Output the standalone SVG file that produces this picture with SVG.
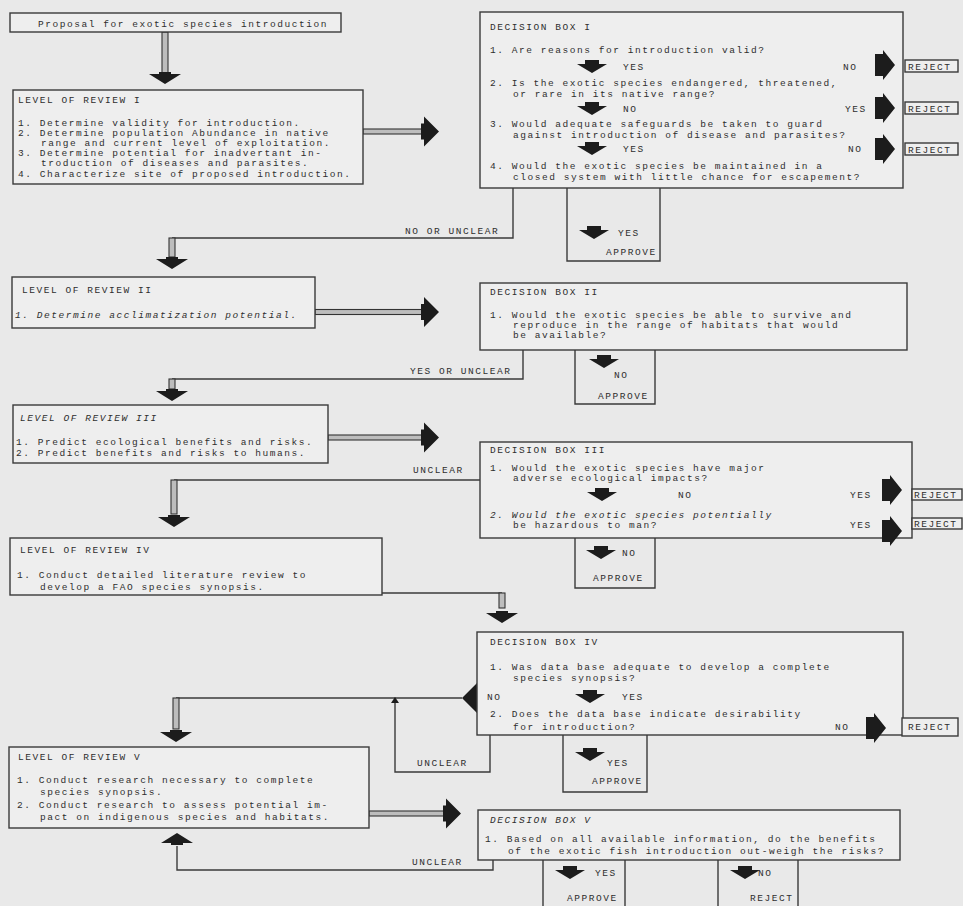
<svg xmlns="http://www.w3.org/2000/svg" width="963" height="906" viewBox="0 0 963 906">
<style>
.bg{fill:#e9e9e9}
.box{fill:#eeeeee;stroke:#3a3a3a;stroke-width:1.4}
.ln{fill:none;stroke:#3a3a3a;stroke-width:1.4}
.sh{fill:#bdbdbd;stroke:#333;stroke-width:1.1}
.ah{fill:#1c1c1c}
.t{font-family:"Liberation Mono","DejaVu Sans Mono",monospace;font-size:9.5px;letter-spacing:1.55px;fill:#2f2f2f}
.i{font-style:italic}
</style>
<defs>
<path id="dn" d="M-7,-7 h14 v4 h8 L0,6 L-15,-3 h8 Z"/>
<path id="rt" d="M-10,-11 h8 v-4 L10,0 L-2,15 v-4 h-8 Z"/>
<path id="bdn" d="M-6,-6 h12 v2 h10 L0,6 L-16,-4 h10 Z"/>
<path id="brt" d="M-9,-8 h3 v-7 L9,0 L-6,15 v-7 h-3 Z"/>
</defs>
<rect class="bg" x="0" y="0" width="963" height="906"/>

<g id="connectors">
  <rect class="sh" x="162" y="32" width="6" height="42"/>
  <use href="#bdn" class="ah" transform="translate(165,78)"/>
  <rect class="sh" x="363" y="129" width="62" height="5"/>
  <use href="#brt" class="ah" transform="translate(430,131.5)"/>
  <polyline class="ln" points="513,188 513,238 172,238"/>
  <rect class="sh" x="169" y="238" width="6" height="19"/>
  <use href="#bdn" class="ah" transform="translate(172,263)"/>
  <rect class="sh" x="315" y="309.5" width="110" height="5"/>
  <use href="#brt" class="ah" transform="translate(430,312)"/>
  <polyline class="ln" points="523,350 523,379 172,379"/>
  <rect class="sh" x="169" y="379" width="6" height="10"/>
  <use href="#bdn" class="ah" transform="translate(172,395)"/>
  <rect class="sh" x="328" y="435" width="97" height="5"/>
  <use href="#brt" class="ah" transform="translate(430,437.5)"/>
  <polyline class="ln" points="480,480 174,480"/>
  <rect class="sh" x="171" y="480" width="6" height="34"/>
  <use href="#bdn" class="ah" transform="translate(174,521)"/>
  <polyline class="ln" points="382,593 502,593"/>
  <rect class="sh" x="499" y="593" width="6" height="15"/>
  <use href="#bdn" class="ah" transform="translate(502,617)"/>
  <use href="#brt" class="ah" transform="translate(471,698) scale(-1,1)"/>
  <polyline class="ln" points="462,698 176,698"/>
  <rect class="sh" x="173" y="698" width="6" height="31"/>
  <use href="#bdn" class="ah" transform="translate(176,736)"/>
  <polyline class="ln" points="490,735 490,772 395,772 395,701"/>
  <path class="ah" d="M391,703 L395,697 L399,703 Z"/>
  <rect class="sh" x="369" y="811" width="76" height="5"/>
  <use href="#brt" class="ah" transform="translate(452,813.5)"/>
  <polyline class="ln" points="493,860 493,870 177,870 177,846"/>
  <use href="#bdn" class="ah" transform="translate(177,839) scale(1,-1)"/>
</g>

<g id="proposal">
  <rect class="box" x="10" y="13" width="331" height="19"/>
  <text class="t" x="38" y="27">Proposal for exotic species introduction</text>
</g>

<g id="level1">
  <rect class="box" x="13" y="90" width="350" height="94"/>
  <text class="t" x="18" y="103">LEVEL OF REVIEW I</text>
  <text class="t" x="18" y="126">1. Determine validity for introduction.</text>
  <text class="t" x="18" y="136">2. Determine population Abundance in native</text>
  <text class="t" x="41" y="146">range and current level of exploitation.</text>
  <text class="t" x="18" y="156">3. Determine potential for inadvertant in-</text>
  <text class="t" x="41" y="166">troduction of diseases and parasites.</text>
  <text class="t" x="18" y="177">4. Characterize site of proposed introduction.</text>
</g>

<g id="decision1">
  <rect class="box" x="480" y="12" width="423" height="176"/>
  <text class="t" x="490" y="30">DECISION BOX I</text>
  <text class="t" x="490" y="53">1. Are reasons for introduction valid?</text>
  <use href="#dn" class="ah" transform="translate(592,67)"/>
  <text class="t" x="623" y="70">YES</text>
  <text class="t" x="843" y="70">NO</text>
  <text class="t" x="490" y="86">2. Is the exotic species endangered, threatened,</text>
  <text class="t" x="513" y="97">or rare in its native range?</text>
  <use href="#dn" class="ah" transform="translate(592,109)"/>
  <text class="t" x="623" y="112">NO</text>
  <text class="t" x="845" y="112">YES</text>
  <text class="t" x="490" y="127">3. Would adequate safeguards be taken to guard</text>
  <text class="t" x="513" y="138">against introduction of disease and parasites?</text>
  <use href="#dn" class="ah" transform="translate(592,149)"/>
  <text class="t" x="623" y="152">YES</text>
  <text class="t" x="848" y="152">NO</text>
  <text class="t" x="490" y="169">4. Would the exotic species be maintained in a</text>
  <text class="t" x="513" y="180">closed system with little chance for escapement?</text>
  <use href="#rt" class="ah" transform="translate(885,65)"/>
  <use href="#rt" class="ah" transform="translate(885,108)"/>
  <use href="#rt" class="ah" transform="translate(885,149)"/>
</g>
<g id="reject1a"><rect class="box" x="905" y="60" width="53" height="12"/><text class="t" x="908" y="69.5">REJECT</text></g>
<g id="reject1b"><rect class="box" x="905" y="102" width="53" height="12"/><text class="t" x="908" y="111.5">REJECT</text></g>
<g id="reject1c"><rect class="box" x="905" y="143" width="53" height="12"/><text class="t" x="908" y="152.5">REJECT</text></g>
<g id="approve1">
  <polyline class="ln" points="567,188 567,261 660,261 660,188"/>
  <use href="#dn" class="ah" transform="translate(594,233)"/>
  <text class="t" x="618" y="236">YES</text>
  <text class="t" x="606" y="255">APPROVE</text>
</g>
<g id="label-no-unclear"><text class="t" x="405" y="234">NO OR UNCLEAR</text></g>

<g id="level2">
  <rect class="box" x="12" y="277" width="303" height="51"/>
  <text class="t" x="22" y="293">LEVEL OF REVIEW II</text>
  <text class="t i" x="15" y="318">1. Determine acclimatization potential.</text>
</g>

<g id="decision2">
  <rect class="box" x="480" y="283" width="427" height="67"/>
  <text class="t" x="490" y="295">DECISION BOX II</text>
  <text class="t" x="490" y="318">1. Would the exotic species be able to survive and</text>
  <text class="t" x="513" y="328">reproduce in the range of habitats that would</text>
  <text class="t" x="513" y="338">be available?</text>
</g>
<g id="approve2">
  <polyline class="ln" points="575,350 575,404 655,404 655,350"/>
  <use href="#dn" class="ah" transform="translate(604,362)"/>
  <text class="t" x="614" y="378">NO</text>
  <text class="t" x="598" y="399">APPROVE</text>
</g>
<g id="label-yes-unclear"><text class="t" x="410" y="374">YES OR UNCLEAR</text></g>

<g id="level3">
  <rect class="box" x="13" y="405" width="315" height="58"/>
  <text class="t i" x="20" y="421">LEVEL OF REVIEW III</text>
  <text class="t" x="16" y="445">1. Predict ecological benefits and risks.</text>
  <text class="t" x="16" y="456">2. Predict benefits and risks to humans.</text>
</g>

<g id="decision3">
  <rect class="box" x="480" y="442" width="432" height="96"/>
  <text class="t" x="490" y="453">DECISION BOX III</text>
  <text class="t" x="490" y="471">1. Would the exotic species have major</text>
  <text class="t" x="513" y="481">adverse ecological impacts?</text>
  <use href="#dn" class="ah" transform="translate(602,495)"/>
  <text class="t" x="678" y="498">NO</text>
  <text class="t" x="850" y="498">YES</text>
  <text class="t i" x="490" y="518">2. Would the exotic species potentially</text>
  <text class="t" x="513" y="528">be hazardous to man?</text>
  <text class="t" x="850" y="528">YES</text>
  <use href="#rt" class="ah" transform="translate(892,490)"/>
  <use href="#rt" class="ah" transform="translate(892,531)"/>
</g>
<g id="reject3a"><rect class="box" x="912" y="489" width="50" height="11"/><text class="t" x="914" y="498">REJECT</text></g>
<g id="reject3b"><rect class="box" x="912" y="518" width="50" height="11"/><text class="t" x="914" y="527">REJECT</text></g>
<g id="approve3">
  <polyline class="ln" points="575,538 575,588 655,588 655,538"/>
  <use href="#dn" class="ah" transform="translate(601,553)"/>
  <text class="t" x="622" y="556">NO</text>
  <text class="t" x="593" y="581">APPROVE</text>
</g>
<g id="label-unclear3"><text class="t" x="413" y="473">UNCLEAR</text></g>

<g id="level4">
  <rect class="box" x="10" y="538" width="372" height="57"/>
  <text class="t" x="20" y="553">LEVEL OF REVIEW IV</text>
  <text class="t" x="17" y="578">1. Conduct detailed literature review to</text>
  <text class="t" x="40" y="590">develop a FAO species synopsis.</text>
</g>

<g id="decision4">
  <rect class="box" x="477" y="632" width="426" height="103"/>
  <text class="t" x="490" y="645">DECISION BOX IV</text>
  <text class="t" x="490" y="670">1. Was data base adequate to develop a complete</text>
  <text class="t" x="513" y="681">species synopsis?</text>
  <text class="t" x="487" y="700">NO</text>
  <use href="#dn" class="ah" transform="translate(590,697)"/>
  <text class="t" x="622" y="700">YES</text>
  <text class="t" x="490" y="717">2. Does the data base indicate desirability</text>
  <text class="t" x="513" y="730">for introduction?</text>
  <text class="t" x="835" y="730">NO</text>
  <use href="#rt" class="ah" transform="translate(876,728)"/>
</g>
<g id="reject4"><rect class="box" x="902" y="718" width="56" height="18"/><text class="t" x="908" y="730">REJECT</text></g>
<g id="approve4">
  <polyline class="ln" points="563,735 563,792 647,792 647,735"/>
  <use href="#dn" class="ah" transform="translate(590,755)"/>
  <text class="t" x="607" y="766">YES</text>
  <text class="t" x="592" y="784">APPROVE</text>
</g>
<g id="label-unclear4"><text class="t" x="417" y="766">UNCLEAR</text></g>

<g id="level5">
  <rect class="box" x="9" y="747" width="360" height="81"/>
  <text class="t" x="18" y="760">LEVEL OF REVIEW V</text>
  <text class="t" x="17" y="783">1. Conduct research necessary to complete</text>
  <text class="t" x="40" y="795">species synopsis.</text>
  <text class="t" x="17" y="808">2. Conduct research to assess potential im-</text>
  <text class="t" x="40" y="820">pact on indigenous species and habitats.</text>
</g>

<g id="decision5">
  <rect class="box" x="478" y="810" width="422" height="50"/>
  <text class="t i" x="490" y="823">DECISION BOX V</text>
  <text class="t" x="485" y="842">1. Based on all available information, do the benefits</text>
  <text class="t" x="508" y="854">of the exotic fish introduction out-weigh the risks?</text>
</g>
<g id="approve5">
  <polyline class="ln" points="543,860 543,910"/>
  <polyline class="ln" points="625,860 625,910"/>
  <use href="#dn" class="ah" transform="translate(570,873)"/>
  <text class="t" x="595" y="876">YES</text>
  <text class="t" x="567" y="901">APPROVE</text>
</g>
<g id="reject5">
  <polyline class="ln" points="718,860 718,910"/>
  <polyline class="ln" points="798,860 798,910"/>
  <use href="#dn" class="ah" transform="translate(745,873)"/>
  <text class="t" x="758" y="876">NO</text>
  <text class="t" x="750" y="901">REJECT</text>
</g>
<g id="label-unclear5"><text class="t" x="412" y="865">UNCLEAR</text></g>
</svg>
